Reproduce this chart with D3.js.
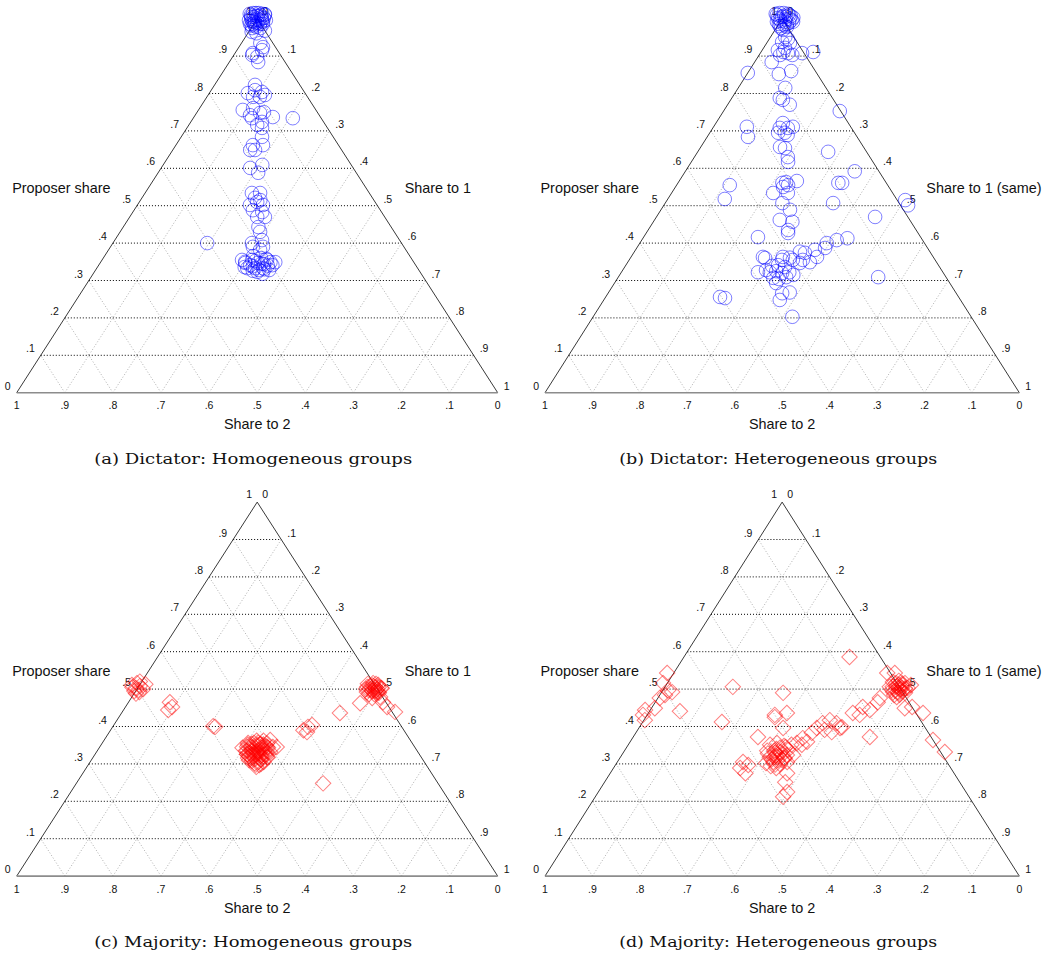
<!DOCTYPE html>
<html>
<head>
<meta charset="utf-8">
<script src="https://cdn.jsdelivr.net/npm/d3@7"></script>
<style>
  body { margin: 0; background: #fff; }
  text { font-family: "Liberation Sans", Arial, sans-serif; fill: #111; }
  .caption { font-family: "DejaVu Serif", "Liberation Serif", serif; }
</style>
</head>
<body>
<svg id="chart" width="1061" height="956"></svg>
<script>
// ---- data: proposer share and share to player 1 (share to 2 = the rest) ----
const dictHomProposer = [1.013, 1.015, 1.015, 1.015, 1.013, 1.010, 1.005, 1.005, 1.007, 1.005, 1.002, 0.996, 0.994, 0.996, 0.996, 0.994, 0.996, 0.986, 0.986, 0.989, 0.986, 0.986, 0.978, 0.975, 0.975,
  1.010, 1.008, 1.010, 1.000, 1.000, 1.000, 0.992, 0.992, 0.982, 0.982, 1.012, 0.990,
  0.965, 0.961, 0.968, 0.935, 0.924, 0.916, 0.908, 0.903, 0.898, 0.884,
  0.801, 0.809, 0.804, 0.791, 0.791, 0.796, 0.823,
  0.756, 0.761, 0.748, 0.737, 0.734, 0.734, 0.724, 0.716, 0.708, 0.684, 0.742, 0.750,
  0.662, 0.662, 0.649, 0.649, 0.601, 0.609, 0.588,
  0.534, 0.534, 0.502, 0.510, 0.502, 0.488, 0.483, 0.470, 0.470, 0.443, 0.430, 0.521, 0.515,
  0.400, 0.400, 0.390, 0.408, 0.390, 0.382,
  0.355, 0.355, 0.347, 0.355, 0.349, 0.333, 0.333, 0.341, 0.341, 0.323, 0.347, 0.333, 0.360, 0.328, 0.365, 0.344, 0.328, 0.349,
  0.352, 0.338, 0.345, 0.330, 0.358, 0.336, 0.326, 0.350, 0.340, 0.318]
const dictHomShare1 = [-0.022, -0.016, -0.010, -0.004, 0.004, 0.011, -0.015, -0.010, -0.002, 0.006, 0.013, -0.015, -0.008, -0.003, 0.006, 0.013, 0.020, -0.008, 0.000, 0.006, 0.013, 0.019, 0.009, 0.019, 0.002,
  -0.018, -0.006, 0.002, -0.012, 0.000, 0.010, -0.004, 0.016, 0.004, -0.003, 0.010, 0.000,
  0.006, 0.018, 0.032, 0.039, 0.050, 0.052, 0.037, 0.038, 0.051, 0.060,
  0.080, 0.091, 0.108, 0.096, 0.110, 0.118, 0.084,
  0.092, 0.111, 0.132, 0.164, 0.207, 0.122, 0.148, 0.142, 0.156, 0.168, 0.114, 0.139,
  0.160, 0.181, 0.171, 0.161, 0.185, 0.206, 0.208,
  0.222, 0.239, 0.234, 0.245, 0.261, 0.247, 0.269, 0.265, 0.281, 0.281, 0.291, 0.235, 0.249,
  0.196, 0.289, 0.296, 0.306, 0.317, 0.315,
  0.291, 0.312, 0.328, 0.343, 0.363, 0.329, 0.346, 0.361, 0.315, 0.339, 0.302, 0.313, 0.328, 0.361, 0.309, 0.342, 0.340, 0.353,
  0.320, 0.322, 0.336, 0.350, 0.340, 0.306, 0.328, 0.300, 0.352, 0.352]

const dictHetProposer = [1.013, 1.015, 1.015, 1.013, 1.007, 1.002, 1.005, 1.005, 1.000, 0.992, 0.994, 0.992, 0.989, 0.992, 0.980, 0.983, 0.978, 0.970,
  1.010, 1.008, 1.010, 0.998, 0.998, 0.996, 0.986, 0.986, 0.975, 1.003,
  0.951, 0.946, 0.938, 0.935, 0.916, 0.911, 0.903, 0.908, 0.903, 0.922, 0.908, 0.911, 0.884, 0.855, 0.852, 0.860,
  0.815, 0.788, 0.783, 0.770, 0.753, 0.711, 0.684, 0.721, 0.708, 0.708, 0.711, 0.695, 0.695, 0.689,
  0.657, 0.654, 0.630, 0.617, 0.644, 0.592, 0.555, 0.518, 0.561, 0.563, 0.555, 0.566, 0.550, 0.534, 0.534,
  0.507, 0.489, 0.462, 0.457, 0.435, 0.427, 0.561, 0.561, 0.507, 0.470, 0.515, 0.501, 0.416, 0.413,
  0.408, 0.400, 0.387, 0.382, 0.374, 0.377, 0.361, 0.355, 0.363, 0.349, 0.355, 0.347, 0.363, 0.360, 0.363, 0.355,
  0.322, 0.339, 0.341, 0.336, 0.322, 0.325, 0.320, 0.322, 0.307, 0.304, 0.309, 0.315, 0.328, 0.293,
  0.309, 0.256, 0.253, 0.266, 0.268, 0.248, 0.203]
const dictHetShare1 = [-0.020, -0.013, -0.004, 0.006, 0.015, -0.010, -0.003, 0.006, 0.016, -0.007, 0.000, 0.010, 0.020, 0.027, 0.005, 0.013, 0.021, 0.017,
  -0.016, 0.000, 0.010, -0.004, 0.008, 0.022, 0.000, 0.017, 0.010, 0.022,
  0.031, 0.039, 0.031, 0.049, 0.033, 0.047, 0.044, 0.058, 0.070, 0.045, 0.088, 0.110, 0.036, 0.000, 0.067, 0.089,
  0.099, 0.101, 0.110, 0.131, 0.245, 0.070, 0.086, 0.141, 0.141, 0.158, 0.167, 0.158, 0.144, 0.167,
  0.167, 0.179, 0.197, 0.204, 0.275, 0.357, 0.112, 0.120, 0.220, 0.227, 0.235, 0.248, 0.227, 0.214, 0.245,
  0.247, 0.272, 0.264, 0.293, 0.295, 0.299, 0.338, 0.346, 0.354, 0.461, 0.502, 0.515, 0.241, 0.431,
  0.411, 0.394, 0.397, 0.378, 0.361, 0.349, 0.336, 0.345, 0.392, 0.384, 0.366, 0.364, 0.278, 0.284, 0.320, 0.322,
  0.288, 0.309, 0.321, 0.338, 0.313, 0.325, 0.340, 0.354, 0.328, 0.341, 0.354, 0.366, 0.302, 0.341,
  0.548, 0.241, 0.253, 0.367, 0.382, 0.371, 0.420]

const majHomProposer = [0.511, 0.503, 0.508, 0.495, 0.492, 0.500, 0.516, 0.513, 0.505, 0.498, 0.520, 0.488,
  0.465, 0.444, 0.452, 0.401, 0.399,
  0.351, 0.356, 0.353, 0.348, 0.335, 0.337, 0.337, 0.335, 0.332, 0.321, 0.321, 0.321, 0.318, 0.308, 0.305, 0.305, 0.292, 0.343, 0.345, 0.345, 0.364, 0.302, 0.343, 0.329,
  0.345, 0.351, 0.351, 0.326, 0.329, 0.329, 0.326, 0.313, 0.310, 0.310, 0.343, 0.297,
  0.316, 0.314, 0.317, 0.313, 0.318, 0.326, 0.324, 0.327, 0.323, 0.326, 0.336, 0.334, 0.333, 0.337, 0.334,
  0.346, 0.344, 0.347, 0.343, 0.345, 0.356, 0.354, 0.357, 0.353, 0.355, 0.298, 0.300, 0.362, 0.362,
  0.390, 0.399, 0.404, 0.385, 0.248, 0.436, 0.462,
  0.514, 0.516, 0.511, 0.500, 0.500, 0.497, 0.503, 0.487, 0.487, 0.490, 0.476, 0.465, 0.452, 0.479, 0.439,
  0.508, 0.506, 0.495, 0.492, 0.492, 0.514,
  0.508, 0.504, 0.500, 0.496, 0.494, 0.506, 0.498, 0.510, 0.492, 0.502, 0.505, 0.497]
const majHomShare1 = [-0.016, -0.004, 0.002, -0.003, 0.009, 0.013, -0.008, 0.011, -0.012, 0.004, -0.004, 0.004,
  0.086, 0.093, 0.097, 0.208, 0.213,
  0.305, 0.315, 0.330, 0.344, 0.309, 0.320, 0.334, 0.347, 0.361, 0.322, 0.334, 0.347, 0.361, 0.335, 0.349, 0.361, 0.352, 0.298, 0.360, 0.368, 0.345, 0.344, 0.338, 0.320,
  0.315, 0.325, 0.337, 0.316, 0.327, 0.340, 0.353, 0.339, 0.353, 0.328, 0.351, 0.356,
  0.323, 0.333, 0.344, 0.351, 0.363, 0.316, 0.328, 0.336, 0.348, 0.356, 0.311, 0.323, 0.333, 0.341, 0.353,
  0.306, 0.318, 0.326, 0.338, 0.348, 0.303, 0.311, 0.323, 0.331, 0.343, 0.348, 0.358, 0.318, 0.332,
  0.401, 0.406, 0.412, 0.411, 0.513, 0.454, 0.483,
  0.473, 0.483, 0.496, 0.476, 0.487, 0.499, 0.506, 0.489, 0.500, 0.508, 0.501, 0.529, 0.544, 0.516, 0.567,
  0.481, 0.492, 0.492, 0.503, 0.482, 0.490,
  0.488, 0.494, 0.500, 0.490, 0.498, 0.476, 0.482, 0.484, 0.506, 0.508, 0.500, 0.495]

const majHetProposer = [0.543, 0.516, 0.497, 0.492, 0.484, 0.476, 0.449, 0.444, 0.431, 0.417, 0.441,
  0.506, 0.412, 0.490, 0.586, 0.543, 0.543,
  0.519, 0.522, 0.516, 0.506, 0.506, 0.503, 0.503, 0.492, 0.490, 0.490, 0.479, 0.511, 0.516, 0.511, 0.500, 0.500, 0.484,
  0.508, 0.504, 0.500, 0.496, 0.494, 0.506, 0.498, 0.512, 0.492, 0.502, 0.515, 0.485,
  0.476, 0.465, 0.452, 0.431, 0.436, 0.444, 0.449, 0.452, 0.436, 0.364, 0.332, 0.372,
  0.417, 0.409, 0.409, 0.398, 0.396, 0.383, 0.369, 0.351, 0.359, 0.356, 0.385, 0.391, 0.396,
  0.425, 0.436, 0.396, 0.431, 0.372,
  0.351, 0.356, 0.348, 0.335, 0.335, 0.332, 0.337, 0.318, 0.318, 0.316, 0.302, 0.305, 0.300, 0.305, 0.289, 0.351, 0.324,
  0.318, 0.343, 0.324, 0.294, 0.310,
  0.330, 0.322, 0.326, 0.312, 0.310, 0.340, 0.315, 0.298, 0.345, 0.328,
  0.305, 0.297, 0.289, 0.275, 0.275, 0.251, 0.225, 0.212]
const majHetShare1 = [-0.014, -0.009, 0.011, 0.022, 0.011, 0.004, 0.007, -0.011, -0.009, 0.002, 0.064,
  0.143, 0.167, 0.257, 0.349, 0.450, 0.466,
  0.474, 0.485, 0.501, 0.474, 0.487, 0.501, 0.513, 0.488, 0.501, 0.514, 0.502, 0.516, 0.482, 0.498, 0.496, 0.509, 0.494,
  0.488, 0.494, 0.500, 0.490, 0.506, 0.480, 0.482, 0.490, 0.498, 0.508, 0.496, 0.505,
  0.468, 0.469, 0.444, 0.448, 0.431, 0.463, 0.534, 0.548, 0.579, 0.636, 0.677, 0.499,
  0.392, 0.381, 0.410, 0.427, 0.375, 0.371, 0.359, 0.366, 0.373, 0.353, 0.412, 0.394, 0.424,
  0.272, 0.292, 0.304, 0.269, 0.263,
  0.299, 0.311, 0.330, 0.301, 0.316, 0.331, 0.344, 0.315, 0.330, 0.346, 0.315, 0.329, 0.345, 0.358, 0.343, 0.344, 0.361,
  0.324, 0.324, 0.348, 0.329, 0.345,
  0.320, 0.326, 0.338, 0.322, 0.336, 0.318, 0.348, 0.336, 0.335, 0.306,
  0.265, 0.280, 0.267, 0.285, 0.373, 0.381, 0.398, 0.396]

// ---- tick labels ----
const gridValues = [0.1, 0.2, 0.3, 0.4, 0.5, 0.6, 0.7, 0.8, 0.9]
const gridLabels = ['.1', '.2', '.3', '.4', '.5', '.6', '.7', '.8', '.9']
const bottomValues = [1, 0.9, 0.8, 0.7, 0.6, 0.5, 0.4, 0.3, 0.2, 0.1, 0]
const bottomLabels = ['1', '.9', '.8', '.7', '.6', '.5', '.4', '.3', '.2', '.1', '0']

const panels = [
  { proposer: dictHomProposer, share1: dictHomShare1, marker: 'circle', color: '#0000ff',
    right: 'Share to 1', caption: '(a) Dictator: Homogeneous groups', x0: 16.7, x1: 497.7, base: 392.7 },
  { proposer: dictHetProposer, share1: dictHetShare1, marker: 'circle', color: '#0000ff',
    right: 'Share to 1 (same)', caption: '(b) Dictator: Heterogeneous groups', x0: 545, x1: 1019.3, base: 392.7 },
  { proposer: majHomProposer, share1: majHomShare1, marker: 'diamond', color: '#ff0000',
    right: 'Share to 1', caption: '(c) Majority: Homogeneous groups', x0: 16.7, x1: 497.7, base: 876.1 },
  { proposer: majHetProposer, share1: majHetShare1, marker: 'diamond', color: '#ff0000',
    right: 'Share to 1 (same)', caption: '(d) Majority: Heterogeneous groups', x0: 545, x1: 1019.3, base: 876.1 }
]

const svg = d3.select('#chart')
const triH = 374

panels.forEach(p => {
  const g = svg.append('g')
  // horizontal position: proposer/2 + share1 ; vertical: proposer
  const xs = d3.scaleLinear().domain([0, 1]).range([p.x0, p.x1])
  const ys = d3.scaleLinear().domain([0, 1]).range([p.base, p.base - triH])
  const pt = (prop, s1) => [xs(prop / 2 + s1), ys(prop)]
  const line = (a, b) => g.append('line')
    .attr('x1', a[0]).attr('y1', a[1]).attr('x2', b[0]).attr('y2', b[1])

  // grid lines parallel to the sides
  gridValues.forEach(v => {
    line(pt(0, v), pt(1 - v, v)).attr('stroke', '#9a9a9a').attr('stroke-dasharray', '1,2').attr('stroke-width', 0.8)
    line(pt(0, 1 - v), pt(1 - v, 0)).attr('stroke', '#9a9a9a').attr('stroke-dasharray', '1,2').attr('stroke-width', 0.8)
  })
  gridValues.forEach(v => {
    line(pt(v, 0), pt(v, 1 - v)).attr('stroke', '#000').attr('stroke-dasharray', '1,2').attr('stroke-width', 1)
  })

  // triangle sides
  const L = pt(0, 0), R = pt(0, 1), T = pt(1, 0)
  line(L, T).attr('stroke', '#222').attr('stroke-width', 0.9)
  line(T, R).attr('stroke', '#222').attr('stroke-width', 0.9)
  line(L, R).attr('stroke', '#8c8c8c').attr('stroke-width', 1.6)

  // tick labels
  const lab = (x, y, t, anchor) => g.append('text')
    .attr('x', x).attr('y', y).attr('text-anchor', anchor)
    .style('font-size', '10.5px').text(t)
  gridValues.forEach((v, i) => {
    const a = pt(v, 0)
    lab(a[0] - 6, a[1] - 3, gridLabels[i], 'end')
    const b = pt(1 - v, v)
    lab(b[0] + 6, b[1] - 3, gridLabels[i], 'start')
  })
  bottomValues.forEach((v, i) => {
    const a = pt(0, 1 - v)
    lab(a[0], a[1] + 16.5, bottomLabels[i], 'middle')
  })
  lab(L[0] - 6, L[1] - 3, '0', 'end')
  lab(R[0] + 6, R[1] - 3, '1', 'start')
  lab(T[0] - 5, T[1] - 4, '1', 'end')
  lab(T[0] + 5, T[1] - 4, '0', 'start')

  // axis titles
  const title = (x, y, t, anchor) => g.append('text')
    .attr('x', x).attr('y', y).attr('text-anchor', anchor)
    .style('font-size', '14.4px').text(t)
  title(p.x0 - 4.5, p.base - 200, 'Proposer share', 'start')
  title(p.x1 - 93, p.base - 200, p.right, 'start')
  title(T[0], p.base + 36.5, 'Share to 2', 'middle')

  // observations
  const data = p.proposer.map((v, i) => ({ prop: v, s1: p.share1[i], s2: 1 - v - p.share1[i] }))
  if (p.marker === 'circle') {
    g.append('g').selectAll('circle')
      .data(data)
      .enter()
      .append('circle')
      .attr('cx', d => pt(d.prop, d.s1)[0])
      .attr('cy', d => pt(d.prop, d.s1)[1])
      .attr('r', 6.8)
      .attr('fill', 'none')
      .attr('stroke', p.color)
      .attr('stroke-opacity', 0.5)
  } else {
    const sym = d3.symbol().type(d3.symbolSquare).size(120)
    g.append('g').selectAll('path')
      .data(data)
      .enter()
      .append('path')
      .attr('d', sym)
      .attr('transform', d => `translate(${pt(d.prop, d.s1)}) rotate(45)`)
      .attr('fill', 'none')
      .attr('stroke', p.color)
      .attr('stroke-opacity', 0.5)
  }

  // sub-caption
  g.append('text')
    .attr('class', 'caption')
    .attr('x', T[0] - 4)
    .attr('y', p.base + 71)
    .attr('text-anchor', 'middle')
    .attr('textLength', 318)
    .attr('lengthAdjust', 'spacingAndGlyphs')
    .style('font-size', '15.5px')
    .text(p.caption)
})
</script>
</body>
</html>
